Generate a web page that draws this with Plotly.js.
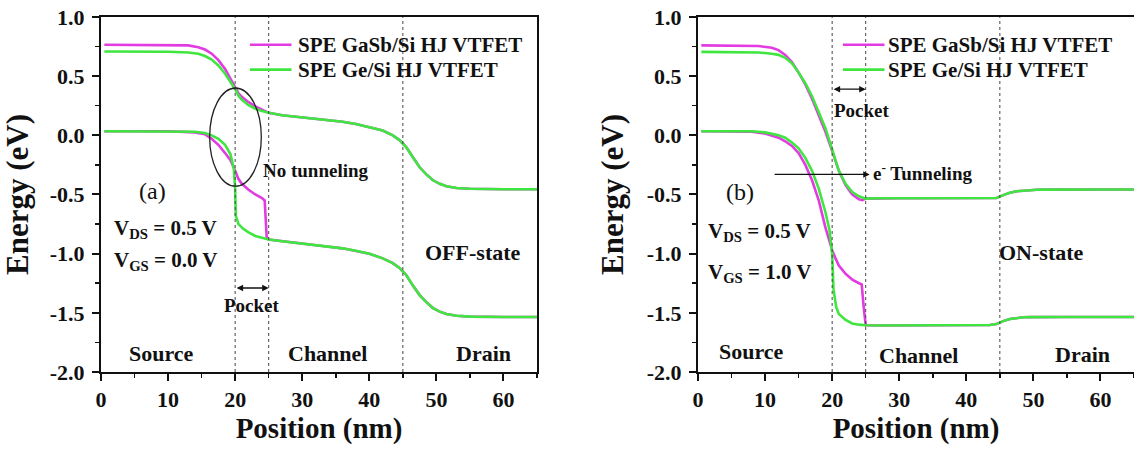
<!DOCTYPE html>
<html>
<head>
<meta charset="utf-8">
<script src="https://cdn.plot.ly/plotly-3.0.1.min.js"></script>
<style>
  html, body { margin: 0; padding: 0; background: #ffffff; }
  #chart { width: 1134px; height: 452px; }
</style>
</head>
<body>
<div id="chart"></div>
<script>
// ---- Band-edge data, position in nm, energy in eV ----

// Channel + drain section, shared by both heterojunctions
const drainX     = [25, 27, 30, 33, 36, 38, 40, 42, 43.5, 44.5, 45.5, 46.5, 47.5, 48.5, 49.5, 50.5, 51.5, 53, 55, 60, 65];
const offEcDrain = [0.19, 0.17, 0.15, 0.135, 0.115, 0.095, 0.07, 0.04, 0.0, -0.04, -0.1, -0.19, -0.27, -0.33, -0.38, -0.41, -0.43, -0.445, -0.452, -0.455, -0.455];
const offEvDrain = [-0.88, -0.895, -0.915, -0.935, -0.955, -0.975, -1.0, -1.04, -1.08, -1.12, -1.18, -1.27, -1.35, -1.41, -1.46, -1.49, -1.51, -1.525, -1.532, -1.535, -1.535];
const onEcDrain  = [-0.535, -0.532, -0.532, -0.532, -0.532, -0.532, -0.532, -0.533, -0.535, -0.53, -0.505, -0.485, -0.472, -0.466, -0.462, -0.46, -0.459, -0.458, -0.458, -0.458, -0.458];
const onEvDrain  = [-1.605, -1.607, -1.607, -1.607, -1.607, -1.607, -1.606, -1.605, -1.603, -1.595, -1.57, -1.552, -1.542, -1.538, -1.536, -1.535, -1.535, -1.535, -1.535, -1.535, -1.535];

// OFF state (V_GS = 0.0 V): source + pocket section
const offEcX      = [0.5, 5, 10, 13, 14.5, 15.5, 16.5, 17.5, 18.5, 19.3, 20, 20.5, 21, 22, 23, 24];
const offGaSbEc   = [0.765, 0.765, 0.765, 0.76, 0.745, 0.725, 0.69, 0.635, 0.56, 0.48, 0.40, 0.355, 0.325, 0.28, 0.245, 0.215];
const offGeEc     = [0.708, 0.708, 0.706, 0.70, 0.69, 0.67, 0.64, 0.59, 0.52, 0.45, 0.39, 0.335, 0.30, 0.255, 0.225, 0.205];
const offGaSbEvX  = [0.5, 5, 10, 14, 15.5, 16.5, 17.5, 18.5, 19.3, 20, 20.5, 21, 22, 23, 24, 24.4, 24.7];
const offGaSbEv   = [0.035, 0.035, 0.035, 0.025, 0.01, -0.03, -0.08, -0.15, -0.21, -0.3, -0.37, -0.41, -0.46, -0.5, -0.53, -0.55, -0.86];
const offGeEvX    = [0.5, 5, 10, 14, 15.5, 16.5, 17.5, 18.5, 19.3, 19.8, 20, 20.1, 20.5, 21.2, 22, 23, 24];
const offGeEv     = [0.035, 0.035, 0.035, 0.03, 0.02, 0.0, -0.03, -0.08, -0.16, -0.28, -0.45, -0.68, -0.75, -0.79, -0.82, -0.85, -0.865];

// ON state (V_GS = 1.0 V): source + pocket section
const onGaSbEcX   = [0.5, 5, 9, 11, 12, 13, 14, 15, 16, 17, 18, 19, 20, 21, 22, 23, 24, 24.5];
const onGaSbEc    = [0.76, 0.76, 0.755, 0.74, 0.72, 0.68, 0.62, 0.53, 0.43, 0.31, 0.17, 0.03, -0.13, -0.3, -0.42, -0.5, -0.54, -0.548];
const onGeEcX     = [0.5, 5, 9, 11, 12, 13, 14, 15, 16, 17, 18, 19, 20, 20.5, 21, 22, 23, 24];
const onGeEc      = [0.705, 0.705, 0.70, 0.69, 0.68, 0.655, 0.61, 0.53, 0.44, 0.33, 0.2, 0.06, -0.12, -0.22, -0.3, -0.41, -0.48, -0.515];
const onGaSbEvX   = [0.5, 5, 8, 10, 11, 12, 13, 14, 15, 16, 17, 18, 19, 19.5, 20, 20.5, 21, 22, 23, 24, 24.4, 24.7];
const onGaSbEv    = [0.035, 0.035, 0.03, 0.015, 0.0, -0.02, -0.05, -0.09, -0.15, -0.25, -0.38, -0.55, -0.78, -0.88, -0.97, -1.04, -1.1, -1.17, -1.22, -1.25, -1.26, -1.45];
const onGeEvX     = [0.5, 5, 8, 10, 11, 12, 13, 14, 15, 16, 17, 18, 19, 19.6, 20, 20.2, 20.6, 21, 22, 23, 24];
const onGeEv      = [0.035, 0.035, 0.035, 0.025, 0.015, 0.0, -0.02, -0.06, -0.11, -0.19, -0.3, -0.45, -0.65, -0.8, -1.0, -1.3, -1.45, -1.51, -1.56, -1.59, -1.6];

// Series names and region boundaries
const seriesNames   = ['SPE GaSb/Si HJ VTFET', 'SPE Ge/Si HJ VTFET'];
const boundaries    = [20, 25, 45];
const regionNames   = ['Source', 'Channel', 'Drain'];

// Axis ticks
const xTickVals = [0, 10, 20, 30, 40, 50, 60];
const yTickVals = [-2.0, -1.5, -1.0, -0.5, 0.0, 0.5, 1.0];
const yTickText = ['-2.0', '-1.5', '-1.0', '-0.5', '0.0', '0.5', '1.0'];

// ---- Styling ----
const MAGENTA = '#e23be2';
const GREEN   = '#3fe63f';
const FONT    = 'Liberation Serif, Times New Roman, serif';

function band(x, y, tail, tailY, color, xa, ya) {
  return {
    type: 'scatter', mode: 'lines',
    x: x.concat(drainX), y: y.concat(tailY),
    xaxis: xa, yaxis: ya,
    line: { color: color, width: 2.6 },
    hoverinfo: 'skip', showlegend: false
  };
}

const traces = [
  // OFF state: GaSb first, Ge drawn on top
  band(offEcX, offGaSbEc, drainX, offEcDrain, MAGENTA, 'x', 'y'),
  band(offGaSbEvX, offGaSbEv, drainX, offEvDrain, MAGENTA, 'x', 'y'),
  band(offEcX, offGeEc, drainX, offEcDrain, GREEN, 'x', 'y'),
  band(offGeEvX, offGeEv, drainX, offEvDrain, GREEN, 'x', 'y'),
  // ON state
  band(onGaSbEcX, onGaSbEc, drainX, onEcDrain, MAGENTA, 'x2', 'y2'),
  band(onGaSbEvX, onGaSbEv, drainX, onEvDrain, MAGENTA, 'x2', 'y2'),
  band(onGeEcX, onGeEc, drainX, onEcDrain, GREEN, 'x2', 'y2'),
  band(onGeEvX, onGeEv, drainX, onEvDrain, GREEN, 'x2', 'y2')
];

function xAxis(domain, anchor) {
  return {
    domain: domain, anchor: anchor, range: [0, 65],
    tickvals: xTickVals, ticks: 'outside', ticklen: 7, tickwidth: 2, tickcolor: '#111',
    minor: { dtick: 5, tick0: 0, ticks: 'outside', ticklen: 4, tickwidth: 1.5, tickcolor: '#111' },
    showline: true, linewidth: 2, linecolor: '#111', mirror: true,
    showgrid: false, zeroline: false,
    tickfont: { family: FONT, size: 22, color: '#111', weight: 'bold' },
    title: { text: 'Position (nm)', standoff: 6, font: { family: FONT, size: 29, color: '#111', weight: 'bold' } }
  };
}
function yAxis(anchor) {
  return {
    domain: [0.177, 0.9624], anchor: anchor, range: [-2, 1],
    tickvals: yTickVals, ticktext: yTickText,
    ticks: 'outside', ticklen: 7, tickwidth: 2, tickcolor: '#111', ticklabelstandoff: 3,
    minor: { dtick: 0.25, tick0: 0, ticks: 'outside', ticklen: 4, tickwidth: 1.5, tickcolor: '#111' },
    showline: true, linewidth: 2, linecolor: '#111', mirror: true,
    showgrid: false, zeroline: false,
    tickfont: { family: FONT, size: 22, color: '#111', weight: 'bold' },
    title: { text: 'Energy (eV)', standoff: 14, font: { family: FONT, size: 31, color: '#111', weight: 'bold' } }
  };
}

// Region boundary markers on both panels
const shapes = [];
['x', 'x2'].forEach((xa, i) => {
  const ya = i === 0 ? 'y' : 'y2';
  boundaries.forEach(b => shapes.push({
    type: 'line', xref: xa, yref: ya, x0: b, x1: b, y0: -2, y1: 1,
    line: { color: '#444', width: 1, dash: '3px,3px' }
  }));
});
// Hand-drawn legend samples
const legendRows = [
  { xa: 'x',  ya: 'y',  x0: 22.2, x1: 28.4, ys: [0.765, 0.555] },
  { xa: 'x2', ya: 'y2', x0: 21.6, x1: 27.8, ys: [0.765, 0.555] }
];
legendRows.forEach(r => {
  [MAGENTA, GREEN].forEach((c, k) => shapes.push({
    type: 'line', xref: r.xa, yref: r.ya, x0: r.x0, x1: r.x1, y0: r.ys[k], y1: r.ys[k],
    line: { color: c, width: 2.6 }
  }));
});
// Ellipse around the source/pocket junction (OFF state)
shapes.push({
  type: 'circle', xref: 'x', yref: 'y', x0: 16.2, x1: 23.9, y0: -0.43, y1: 0.40,
  line: { color: '#222', width: 1.3 }
});

function txt(xa, ya, x, y, text, size, opts) {
  return Object.assign({
    xref: xa, yref: ya, x: x, y: y, text: text, showarrow: false,
    font: { family: FONT, size: size, color: '#111', weight: 'bold' },
    xanchor: 'center', yanchor: 'middle'
  }, opts || {});
}
function arrow(xa, ya, xFrom, xTo, y, both) {
  return {
    xref: xa, yref: ya, axref: xa, ayref: ya,
    x: xTo, y: y, ax: xFrom, ay: y, text: '', showarrow: true,
    arrowhead: 2, arrowsize: 1, arrowwidth: 1.3, arrowcolor: '#111',
    arrowside: both ? 'end+start' : 'end', standoff: 0, startstandoff: 0
  };
}

const annotations = [
  // legend labels
  txt('x', 'y', 29.0, 0.765, seriesNames[0], 21, { xanchor: 'left' }),
  txt('x', 'y', 29.0, 0.555, seriesNames[1], 21, { xanchor: 'left' }),
  txt('x2', 'y2', 28.0, 0.765, seriesNames[0], 21, { xanchor: 'left' }),
  txt('x2', 'y2', 28.0, 0.555, seriesNames[1], 21, { xanchor: 'left' }),
  // OFF panel
  txt('x', 'y', 7.7, -0.47, '(a)', 24, { font: { family: FONT, size: 24, color: '#111' } }),
  txt('x', 'y', 1.6, -0.79, 'V<sub>DS</sub> = 0.5 V', 21, { xanchor: 'left' }),
  txt('x', 'y', 1.6, -1.06, 'V<sub>GS</sub> = 0.0 V', 21, { xanchor: 'left' }),
  txt('x', 'y', 23.9, -0.30, 'No tunneling', 19, { xanchor: 'left' }),
  arrow('x', 'y', 20, 25, -1.29, true),
  txt('x', 'y', 22.5, -1.44, 'Pocket', 19),
  txt('x', 'y', 55.5, -0.99, 'OFF-state', 22),
  txt('x', 'y', 9.0, -1.84, regionNames[0], 22),
  txt('x', 'y', 33.7, -1.84, regionNames[1], 22),
  txt('x', 'y', 57.0, -1.84, regionNames[2], 22),
  // ON panel
  txt('x2', 'y2', 6.3, -0.48, '(b)', 24, { font: { family: FONT, size: 24, color: '#111' } }),
  txt('x2', 'y2', 1.2, -0.82, 'V<sub>DS</sub> = 0.5 V', 21, { xanchor: 'left' }),
  txt('x2', 'y2', 1.2, -1.16, 'V<sub>GS</sub> = 1.0 V', 21, { xanchor: 'left' }),
  arrow('x2', 'y2', 20, 25, 0.39, true),
  txt('x2', 'y2', 20.0, 0.21, 'Pocket', 19, { xanchor: 'left' }),
  arrow('x2', 'y2', 11.2, 25.6, -0.33, false),
  txt('x2', 'y2', 25.8, -0.31, 'e<sup>-</sup> Tunneling', 19, { xanchor: 'left' }),
  txt('x2', 'y2', 51.2, -0.99, 'ON-state', 22),
  txt('x2', 'y2', 8.0, -1.83, regionNames[0], 22),
  txt('x2', 'y2', 32.9, -1.86, regionNames[1], 22),
  txt('x2', 'y2', 57.3, -1.85, regionNames[2], 22)
];

const layout = {
  width: 1134, height: 452,
  margin: { l: 0, r: 0, t: 0, b: 0 },
  paper_bgcolor: '#ffffff', plot_bgcolor: '#ffffff',
  showlegend: false,
  xaxis: xAxis([101 / 1134, 537 / 1134], 'y'),
  yaxis: yAxis('x'),
  xaxis2: xAxis([698 / 1134, 1.0], 'y2'),
  yaxis2: yAxis('x2'),
  shapes: shapes,
  annotations: annotations
};

Plotly.newPlot('chart', traces, layout, { staticPlot: true, displayModeBar: false });
</script>
</body>
</html>
